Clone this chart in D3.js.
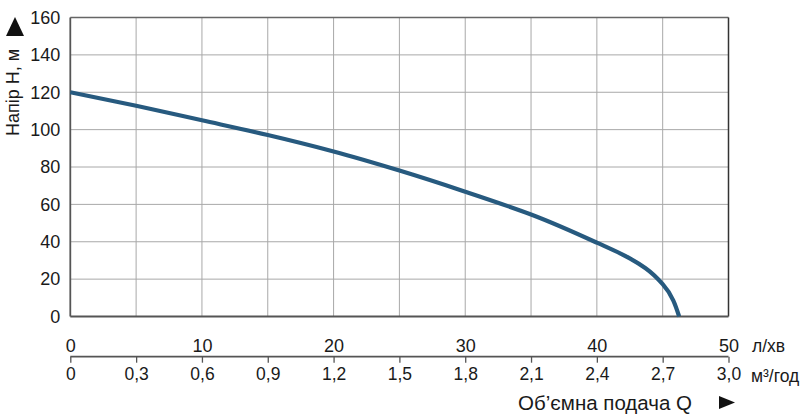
<!DOCTYPE html>
<html><head><meta charset="utf-8">
<script src="https://cdn.jsdelivr.net/npm/d3@7"></script>
<style>
html,body{margin:0;padding:0;background:#fff;}
svg text{font-family:"Liberation Sans",Arial,sans-serif;fill:#1a1a1a;}
</style></head>
<body>
<svg id="c" width="810" height="420"></svg>
<script>
// Data (flow in l/min, head in m)
const flowLpm = [0, 5, 10, 15, 20, 25, 30, 35, 40, 42.5, 43.7, 45, 46.25];
const headM   = [120, 112.8, 105, 97.1, 88.3, 78.1, 66.8, 54.6, 39.5, 31.1, 25.8, 17.3, 0];
const headTicks = [0, 20, 40, 60, 80, 100, 120, 140, 160];
const lpmTicks = [0, 10, 20, 30, 40, 50];
const m3hTicks = [0, 0.3, 0.6, 0.9, 1.2, 1.5, 1.8, 2.1, 2.4, 2.7, 3.0];
const yTitle = "Напір Н, м";
const xTitle = "Об’ємна подача Q";
const unitTop = "л/хв";
const unitBottom = "м³/год";

const FF = '"Liberation Sans", Arial, sans-serif';
const svg = d3.select("#c");
const L = 70.3, R = 728.5, T = 17.5, B = 316.5;
const x = d3.scaleLinear().domain([0, 50]).range([L, R]);
const xm = d3.scaleLinear().domain([0, 3.0]).range([L, R]);
const y = d3.scaleLinear().domain([0, 160]).range([B, T]);
const fmt = d => d === 0 ? "0" : d3.format(".1f")(d).replace(".", ",");

// gridlines
const g = svg.append("g");
g.selectAll("line.v").data(m3hTicks.slice(1, -1)).join("line")
  .attr("x1", d => xm(d)).attr("x2", d => xm(d)).attr("y1", T).attr("y2", B)
  .attr("stroke", "#a8a8a8").attr("stroke-width", 1);
g.selectAll("line.h").data(headTicks.slice(1, -1)).join("line")
  .attr("x1", L).attr("x2", R).attr("y1", d => y(d)).attr("y2", d => y(d))
  .attr("stroke", "#a8a8a8").attr("stroke-width", 1);

// frame
svg.append("line").attr("x1", L).attr("x2", R).attr("y1", T).attr("y2", T).attr("stroke", "#666").attr("stroke-width", 1.5);
svg.append("line").attr("x1", R).attr("x2", R).attr("y1", T).attr("y2", B).attr("stroke", "#333").attr("stroke-width", 1.5);
svg.append("line").attr("x1", L).attr("x2", L).attr("y1", T).attr("y2", B).attr("stroke", "#555").attr("stroke-width", 1.8);
svg.append("line").attr("x1", L).attr("x2", R).attr("y1", B).attr("y2", B).attr("stroke", "#555").attr("stroke-width", 1.8);

// y axis labels
const ya = svg.append("g").attr("transform", `translate(${L},0)`)
  .call(d3.axisLeft(y).tickValues(headTicks).tickSize(0).tickPadding(10));
ya.select(".domain").remove();
ya.selectAll("text").style("font-size", "18px").style("font-family", FF).attr("fill", "#1a1a1a");

// curve
const pts = flowLpm.map((q, i) => [q, headM[i]]);
svg.append("path").datum(pts)
  .attr("fill", "none").attr("stroke", "#275a7f").attr("stroke-width", 4.2)
  .attr("d", d3.line().x(d => x(d[0])).y(d => y(d[1])).curve(d3.curveMonotoneY));

// bottom double axis
const AY = 356.7;
const xb = svg.append("g").attr("transform", `translate(0,${AY})`)
  .call(d3.axisBottom(xm).tickValues(m3hTicks).tickSize(6).tickPadding(5).tickFormat(fmt));
xb.select(".domain").attr("stroke", "#555").attr("stroke-width", 1.8).attr("d", `M${L},0H${R}`);
xb.selectAll(".tick line").attr("stroke", "#555").attr("stroke-width", 1.3);
xb.selectAll("text").style("font-size", "17.5px").style("font-family", FF).attr("fill", "#1a1a1a");

const xt = svg.append("g").attr("transform", `translate(0,${AY})`)
  .call(d3.axisTop(x).tickValues(lpmTicks).tickSize(0).tickPadding(5));
xt.select(".domain").remove();
xt.selectAll("text").style("font-size", "18px").style("font-family", FF).attr("fill", "#1a1a1a");

// units
svg.append("text").attr("x", 752).attr("y", 352).style("font-size", "17.5px").style("font-family", FF).text(unitTop);
svg.append("text").attr("x", 751).attr("y", 382).style("font-size", "17.5px").style("font-family", FF).text(unitBottom);

// x title + arrow
svg.append("text").attr("x", 692).attr("y", 410).attr("text-anchor", "end")
  .style("font-size", "20.5px").style("font-family", FF).text(xTitle);
svg.append("path").attr("d", "M719,396L735,402.5L719,409Z").attr("fill", "#111");

// y title + arrow
svg.append("text").attr("transform", "translate(18.5,92.5) rotate(-90)").attr("text-anchor", "middle")
  .style("font-size", "18px").style("font-family", FF).text(yTitle);
svg.append("path").attr("d", "M6,36L15,17L24,36Z").attr("fill", "#111");
</script>
</body></html>
